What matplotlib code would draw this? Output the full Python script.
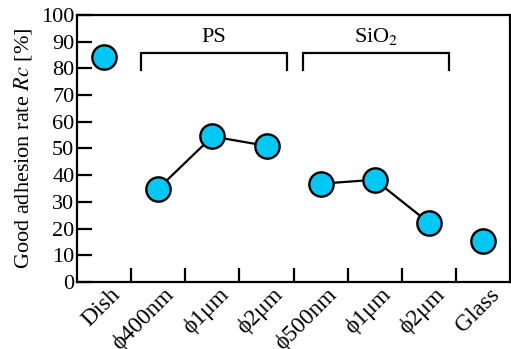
import matplotlib
matplotlib.use("Agg")
import matplotlib.pyplot as plt

plt.rcParams['font.family'] = ['Liberation Serif', 'DejaVu Serif']
plt.rcParams['mathtext.fontset'] = 'stix'

# data
labels = ['Dish', 'ϕ400nm', 'ϕ1μm', 'ϕ2μm', 'ϕ500nm', 'ϕ1μm', 'ϕ2μm', 'Glass']
rc_values = [84.3, 35.0, 54.5, 51.0, 36.8, 38.3, 22.2, 15.4]
ps_idx = [1, 2, 3]
sio2_idx = [4, 5, 6]
group_names = ['PS', 'SiO$_2$']

fig = plt.figure(figsize=(5.11, 3.49), dpi=100)
ax = fig.add_axes([0.151, 0.192, 0.847, 0.765])

x = list(range(len(labels)))
cyan = '#00C8F5'
mk = dict(marker='o', markersize=17.5, markerfacecolor=cyan, markeredgecolor='black',
          markeredgewidth=1.7, zorder=3)

# connected groups
for idx in (ps_idx, sio2_idx):
    ax.plot(idx, [rc_values[i] for i in idx], color='black', lw=1.6, **mk)
# standalone points
for i in (0, 7):
    ax.plot([i], [rc_values[i]], linestyle='none', **mk)

# group brackets
for idx, name in zip((ps_idx, sio2_idx), group_names):
    x0, x1 = idx[0] - 0.32, idx[-1] + 0.38
    ax.plot([x0, x0, x1, x1], [79.5, 85.8, 85.8, 79.5], color='black', lw=1.6,
            solid_joinstyle='miter')
    ax.text((x0 + x1) / 2, 88, name, ha='center', va='bottom', fontsize=16)

ax.set_xlim(-0.5, 7.5)
ax.set_ylim(0, 100)
ax.set_yticks(range(0, 101, 10))
ax.set_xticks([i + 0.5 for i in range(7)])
ax.set_xticklabels([])
ax.tick_params(direction='in', length=11, width=1.6, labelsize=16, pad=3)
ax.tick_params(axis='y', pad=2)
ax.tick_params(axis='x', length=10)
for s in ax.spines.values():
    s.set_linewidth(1.6)

# category labels rotated under each category
for i, lab in enumerate(labels):
    ax.text(i + 0.24, -3.5, lab, rotation=45, rotation_mode='anchor',
            ha='right', va='center', fontsize=17, clip_on=False)

ax.set_ylabel('Good adhesion rate $Rc$ [%]', fontsize=16, labelpad=5)

fig.savefig('out.png', dpi=100)
